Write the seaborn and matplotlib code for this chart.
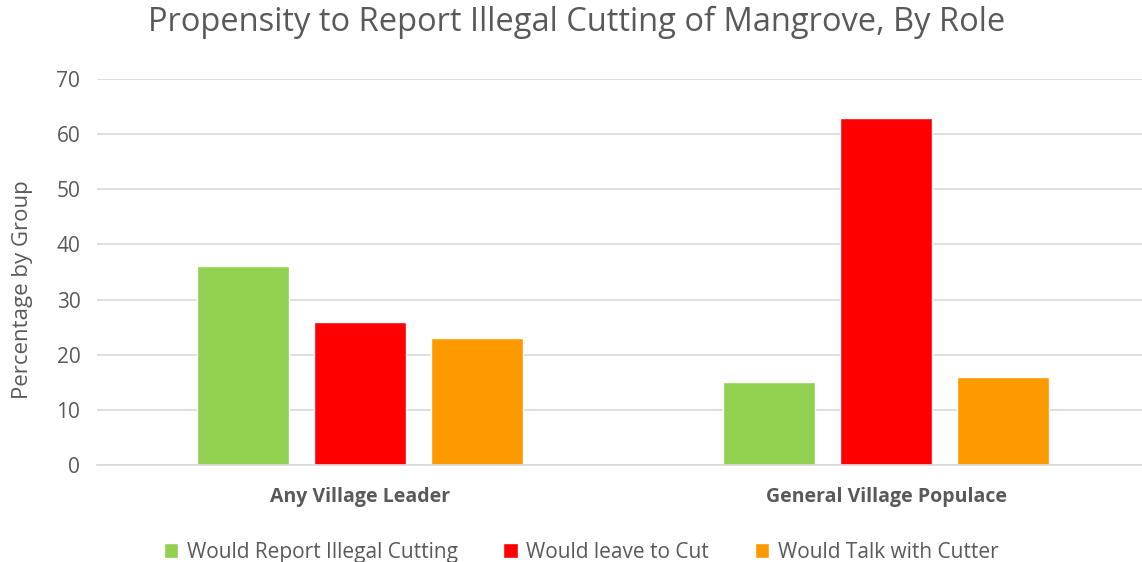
import pandas as pd
import matplotlib
matplotlib.use("Agg")
import matplotlib.pyplot as plt
import seaborn as sns

# data
groups = ["Any Village Leader", "General Village Populace"]
responses = ["Would Report Illegal Cutting", "Would leave to Cut", "Would Talk with Cutter"]
report_vals = [36, 15]
leave_vals = [26, 63]
talk_vals = [23, 16]
colors = ["#92D050", "#FF0000", "#FF9900"]

df = pd.DataFrame({
    "Group": groups * 3,
    "Response": [responses[0]] * 2 + [responses[1]] * 2 + [responses[2]] * 2,
    "Value": report_vals + leave_vals + talk_vals,
})

sns.set_theme(style="white")
plt.rcParams['font.family'] = ['Open Sans', 'DejaVu Sans']

fig = plt.figure(figsize=(11.42, 5.62), dpi=100)
ax_left, ax_w = 97 / 1142, 1052 / 1142
ax = fig.add_axes([ax_left, 1 - 465 / 562, ax_w, 386 / 562])

sns.barplot(data=df, x="Group", y="Value", hue="Response", palette=colors,
            width=0.665, gap=0.21, ax=ax, saturation=1)

ax.set_ylim(0, 70)
ax.set_xlim(-0.5, 1.5)
ax.set_yticks(range(0, 71, 10))
ax.yaxis.grid(True, color="#D9D9D9", linewidth=1.2)
ax.set_axisbelow(True)
for s in ["top", "right", "left"]:
    ax.spines[s].set_visible(False)
ax.spines["bottom"].set_color("#D9D9D9")
ax.spines["bottom"].set_linewidth(1.2)
ax.tick_params(axis="both", length=0, colors="#595959", labelsize=15)
ax.tick_params(axis="y", pad=12)
ax.tick_params(axis="x", pad=16)
for lbl in ax.get_xticklabels():
    lbl.set_fontweight("bold")
    lbl.set_fontsize(14)

ax.set_xlabel("")
ax.set_ylabel("Percentage by Group", color="#595959", fontsize=16)
ax.yaxis.set_label_coords(-0.061, 0.455)

fig.suptitle("Propensity to Report Illegal Cutting of Mangrove, By Role",
             color="#595959", fontsize=23.5, x=577 / 1142, y=0.99)

ax.legend(loc="upper center", bbox_to_anchor=((581 / 1142 - ax_left) / ax_w, -0.15),
          ncol=3, frameon=False, fontsize=15, handlelength=0.7, handleheight=0.7,
          columnspacing=2.2, handletextpad=0.4, labelcolor="#595959")

fig.savefig("out.png", dpi=100)
